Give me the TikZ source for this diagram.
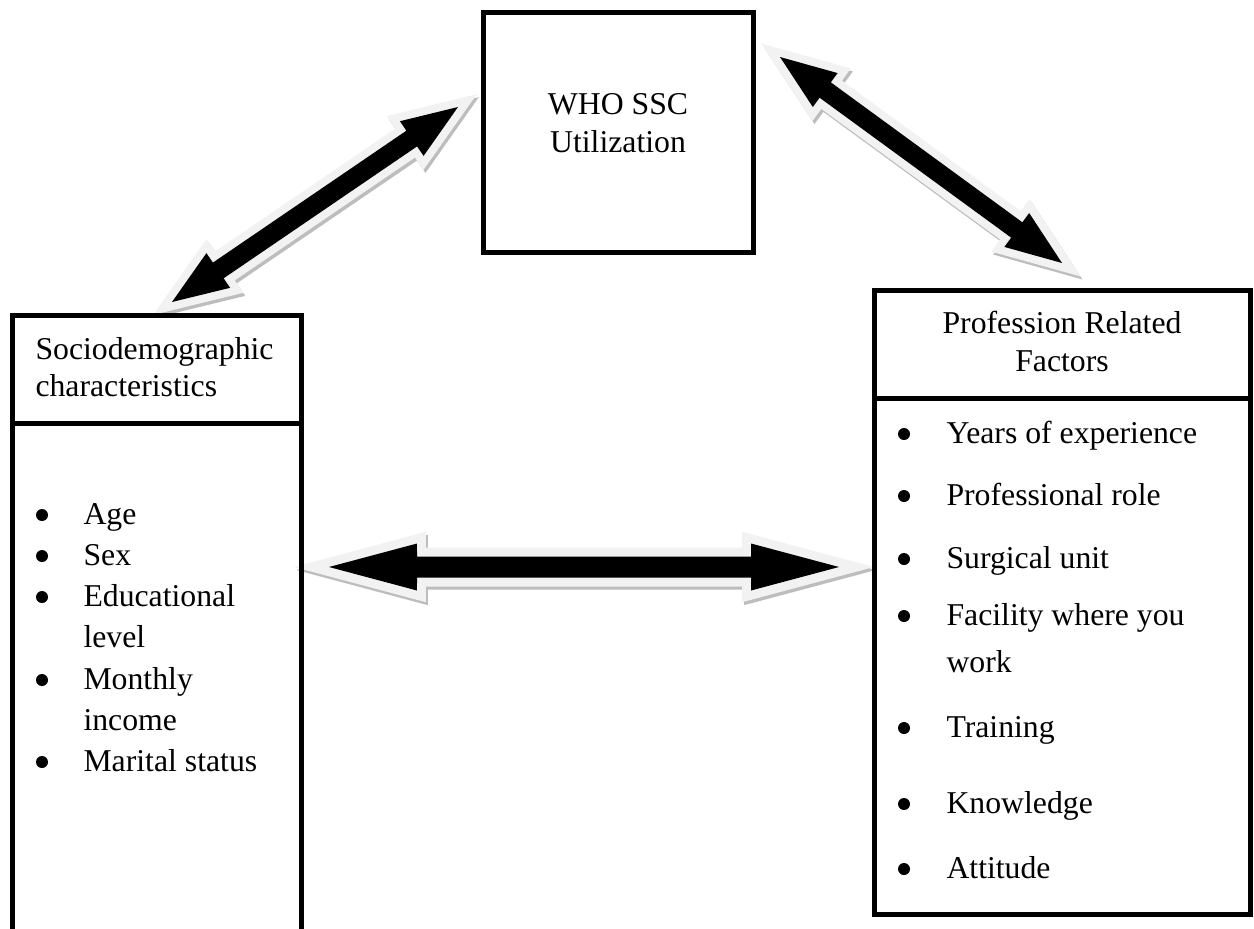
\documentclass[tikz,border=0pt]{standalone}
\usepackage{fontspec}
\setmainfont{Liberation Serif}
\usetikzlibrary{calc}
\definecolor{arrline}{HTML}{F2F2F2}
\definecolor{arrshad}{HTML}{BDBDBD}
% block double arrow between two tips: #1 tip, #2 other tip, #3 head radius, #4 head angle, #5 shaft radius, #6 shaft angle, #7 style
\newcommand\arrshape[7]{%
  \path[#7] (#1) -- ($(#1)!#3!#4:(#2)$) -- ($(#1)!#5!#6:(#2)$) -- ($(#2)!#5!-#6:(#1)$) -- ($(#2)!#3!-#4:(#1)$) -- (#2)
    -- ($(#2)!#3!#4:(#1)$) -- ($(#2)!#5!#6:(#1)$) -- ($(#1)!#5!-#6:(#2)$) -- ($(#1)!#3!-#4:(#2)$) -- cycle;}
% #7 = rim line width
\newcommand\blockarrow[7]{%
  \arrshape{#1}{#2}{#3}{#4}{#5}{#6}{arrowshadow, line width=#7}%
  \arrshape{#1}{#2}{#3}{#4}{#5}{#6}{arrowrim, line width=#7}%
  \arrshape{#1}{#2}{#3}{#4}{#5}{#6}{arrowbody}}
\begin{document}
\begin{tikzpicture}[x=0.4pt,y=-0.4pt,
  every node/.style={font=\fontsize{12.7}{15}\selectfont},
  box/.style={draw=black, line width=2pt, inner sep=0pt, outer sep=0pt},
  txt/.style={inner sep=0pt, anchor=base west},
  ctxt/.style={inner sep=0pt, anchor=base},
  dot/.style={circle, fill=black, inner sep=0pt, minimum size=4.8pt},
  arrowshadow/.style={fill=arrshad, draw=arrshad, line join=miter,
    transform canvas={xshift=0.8pt,yshift=-1.2pt}},
  arrowrim/.style={fill=arrline, draw=arrline, line join=miter},
  arrowbody/.style={fill=black}]
\useasboundingbox (0,0) rectangle (1254,928);

% arrow tips
\coordinate (la) at (458,107);
\coordinate (lb) at (172,302);
\coordinate (ra) at (780,57);
\coordinate (rb) at (1062,263);
\coordinate (ha) at (329,567);
\coordinate (hb) at (839,567);

\blockarrow{la}{lb}{23.92pt}{20.56}{22.72pt}{9.63}{6.4pt}
\blockarrow{ra}{rb}{23.92pt}{20.56}{22.72pt}{9.63}{6.4pt}
\blockarrow{ha}{hb}{36.43pt}{14.95}{35.45pt}{6.80}{7.2pt}

% boxes
\node[box, minimum width=270*0.4pt, minimum height=240*0.4pt] (who) at (618,132.5) {};
\node[box, minimum width=289*0.4pt, minimum height=108*0.4pt] (sochead) at (157,369) {};
\node[box, minimum width=289*0.4pt, minimum height=520*0.4pt] (socbody) at (157,683) {};
\node[box, minimum width=376*0.4pt, minimum height=108*0.4pt] (profhead) at (1062.5,344) {};
\node[box, minimum width=376*0.4pt, minimum height=516*0.4pt] (profbody) at (1062.5,656) {};

% texts
\node[ctxt] (t1) at (618,114) {WHO SSC};
\node[ctxt] (t2) at (618,152) {Utilization};

\node[txt] (s1) at (35,359) {Sociodemographic};
\node[txt] (s2) at (35,396) {characteristics};

\node[ctxt] (p1) at (1062,333) {Profession Related};
\node[ctxt] (p2) at (1062,371) {Factors};

\node[dot] (lb1) at (42,515) {};
\node[txt] (li1) at (83,524) {Age};
\node[dot] (lb2) at (42,556) {};
\node[txt] (li2) at (83,565) {Sex};
\node[dot] (lb3) at (42,597) {};
\node[txt] (li3) at (83,606) {Educational};
\node[txt] (li3b) at (83,647) {level};
\node[dot] (lb4) at (42,680) {};
\node[txt] (li4) at (83,689) {Monthly};
\node[txt] (li4b) at (83,730) {income};
\node[dot] (lb5) at (42,762) {};
\node[txt] (li5) at (83,771) {Marital status};

\node[dot] (rb1) at (904,434) {};
\node[txt] (ri1) at (946,443) {Years of experience};
\node[dot] (rb2) at (904,496) {};
\node[txt] (ri2) at (946,505) {Professional role};
\node[dot] (rb3) at (904,559) {};
\node[txt] (ri3) at (946,568) {Surgical unit};
\node[dot] (rb4) at (904,616) {};
\node[txt] (ri4) at (946,625) {Facility where you};
\node[txt] (ri4b) at (946,672) {work};
\node[dot] (rb5) at (904,728) {};
\node[txt] (ri5) at (946,737) {Training};
\node[dot] (rb6) at (904,804) {};
\node[txt] (ri6) at (946,813) {Knowledge};
\node[dot] (rb7) at (904,869) {};
\node[txt] (ri7) at (946,878) {Attitude};
\end{tikzpicture}
\end{document}
